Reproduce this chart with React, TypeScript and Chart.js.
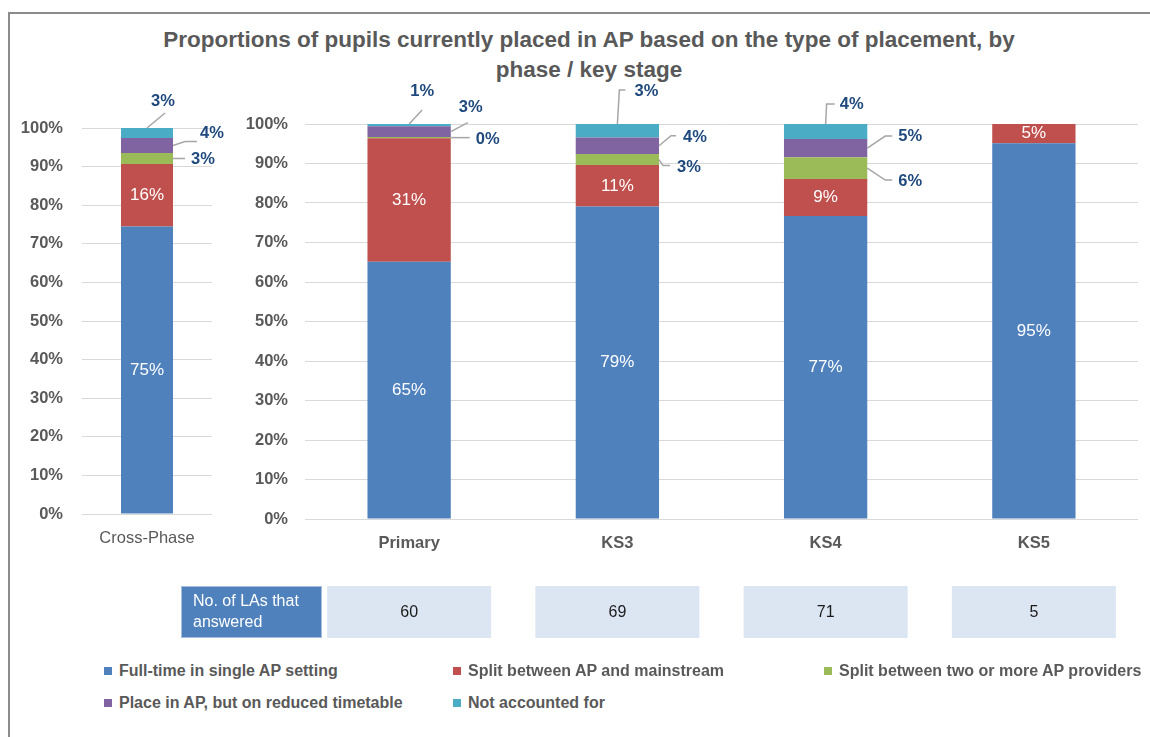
import React, { useEffect, useRef } from "react";
import { Chart, registerables } from "chart.js";

Chart.register(...registerables);

// ---------- DATA ----------
const titleLines = [
  "Proportions of pupils currently placed in AP based on the type of placement, by",
  "phase / key stage",
];

const seriesNames = [
  "Full-time in single AP setting",
  "Split between AP and mainstream",
  "Split between two or more AP providers",
  "Place in AP, but on reduced timetable",
  "Not accounted for",
];

const crossCategories = ["Cross-Phase"];
const crossFullTime = [74.5];
const crossSplitMainstream = [16.2];
const crossSplitProviders = [2.8];
const crossReduced = [3.9];
const crossNotAccounted = [2.6];

const phaseCategories = ["Primary", "KS3", "KS4", "KS5"];
const phaseFullTime = [65.1, 79.1, 76.7, 95.1];
const phaseSplitMainstream = [31.3, 10.5, 9.4, 4.9];
const phaseSplitProviders = [0.3, 2.8, 5.5, 0];
const phaseReduced = [2.7, 4.2, 4.6, 0];
const phaseNotAccounted = [0.6, 3.4, 3.8, 0];

const yTickValues = [0, 10, 20, 30, 40, 50, 60, 70, 80, 90, 100];

const laHeaderLines = ["No. of LAs that", "answered"];
const laCounts = [60, 69, 71, 5];

// ---------- STYLE ----------
const seriesColors = ["#4F81BD", "#C0504D", "#9BBB59", "#8064A2", "#4BACC6"];
const FONT = "'Liberation Sans', Arial, sans-serif";
const TEXT_GRAY = "#595959";
const CALLOUT_BLUE = "#1F497D";
const LEADER = "#A6A6A6";

type Callout = { anchor: "top" | "right"; line: number[][]; label: number[] };

// callout offsets keyed "datasetIndex-categoryIndex"
const crossCallouts: Record<string, Callout> = {
  "4-0": { anchor: "top", line: [[0, 0], [18, -15]], label: [16, -27] },
  "3-0": { anchor: "right", line: [[0, 0], [12, -4], [24, -4]], label: [39, -12] },
  "2-0": { anchor: "right", line: [[0, 0], [12, 0]], label: [30, 1] },
};
const phaseCallouts: Record<string, Callout> = {
  "4-0": { anchor: "top", line: [[0, 0], [13, -14]], label: [13, -33] },
  "3-0": { anchor: "right", line: [[0, 0], [17, -9]], label: [20, -24] },
  "2-0": { anchor: "right", line: [[0, 0], [19, 0]], label: [37, 2] },
  "4-1": { anchor: "top", line: [[0, 0], [2, -34], [8, -34]], label: [29, -33] },
  "3-1": { anchor: "right", line: [[0, 0], [12, -10], [17, -10]], label: [36, -8] },
  "2-1": { anchor: "right", line: [[0, 0], [4, 6], [11, 6]], label: [30, 8] },
  "4-2": { anchor: "top", line: [[0, 0], [1, -20], [9, -20]], label: [26, -20] },
  "3-2": { anchor: "right", line: [[0, 0], [18, -12], [25, -12]], label: [43, -12] },
  "2-2": { anchor: "right", line: [[0, 0], [18, 12], [25, 12]], label: [43, 13] },
};

function makeDatasets(series: number[][]) {
  return series.map((data, i) => ({
    label: seriesNames[i],
    data,
    backgroundColor: seriesColors[i],
    borderWidth: 0,
    barPercentage: 0.4,
    categoryPercentage: 1,
  }));
}

function labelPlugin(callouts: Record<string, Callout>) {
  return {
    id: "segLabels",
    afterDatasetsDraw(chart: any) {
      const ctx = chart.ctx;
      ctx.save();
      chart.data.datasets.forEach((ds: any, di: number) => {
        const meta = chart.getDatasetMeta(di);
        meta.data.forEach((el: any, ci: number) => {
          const v = ds.data[ci];
          if (!v || v <= 0) return;
          const p = el.getProps(["x", "y", "base", "width"], true);
          const text = Math.round(v) + "%";
          if (di < 2) {
            ctx.fillStyle = "#FFFFFF";
            ctx.font = `17px ${FONT}`;
            ctx.textAlign = "center";
            ctx.textBaseline = "middle";
            ctx.fillText(text, p.x, (p.y + p.base) / 2);
          } else {
            const c = callouts[`${di}-${ci}`];
            if (!c) return;
            const ax = c.anchor === "top" ? p.x : p.x + p.width / 2;
            const ay = c.anchor === "top" ? p.y : (p.y + p.base) / 2;
            ctx.strokeStyle = LEADER;
            ctx.lineWidth = 1.5;
            ctx.beginPath();
            c.line.forEach((pt, k) => {
              if (k === 0) ctx.moveTo(ax + pt[0], ay + pt[1]);
              else ctx.lineTo(ax + pt[0], ay + pt[1]);
            });
            ctx.stroke();
            ctx.fillStyle = CALLOUT_BLUE;
            ctx.font = `bold 16.5px ${FONT}`;
            ctx.textAlign = "center";
            ctx.textBaseline = "middle";
            ctx.fillText(text, ax + c.label[0], ay + c.label[1]);
          }
        });
      });
      ctx.restore();
    },
  };
}

const tablePlugin = {
  id: "laTable",
  afterDraw(chart: any) {
    const ctx = chart.ctx;
    const xs = chart.scales.x;
    const canvasLeft = 160;
    const canvasTop = 80;
    const boxTop = 586 - canvasTop;
    const boxH = 52;
    ctx.save();
    const hx = 181 - canvasLeft;
    ctx.fillStyle = "#4F81BD";
    ctx.fillRect(hx, boxTop, 141, boxH);
    ctx.strokeStyle = "#A7BFDE";
    ctx.lineWidth = 1;
    ctx.strokeRect(hx + 0.5, boxTop + 0.5, 140, boxH - 1);
    ctx.fillStyle = "#FFFFFF";
    ctx.font = `16px ${FONT}`;
    ctx.textAlign = "left";
    ctx.textBaseline = "middle";
    laHeaderLines.forEach((t, i) => ctx.fillText(t, hx + 12, boxTop + 16 + i * 21));
    laCounts.forEach((n, i) => {
      const cx = xs.getPixelForValue(i);
      const w = 164;
      ctx.fillStyle = "#DCE6F2";
      ctx.fillRect(cx - w / 2, boxTop, w, boxH);
      ctx.fillStyle = "#1A1A1A";
      ctx.font = `16px ${FONT}`;
      ctx.textAlign = "center";
      ctx.textBaseline = "middle";
      ctx.fillText(String(n), cx, boxTop + boxH / 2 + 1);
    });
    ctx.restore();
  },
};

function baseOptions(yWidth: number, xHeight: number, padding: any, xBold: boolean, tickPad: number) {
  return {
    responsive: false,
    animation: false as const,
    maintainAspectRatio: false,
    layout: { padding },
    plugins: { legend: { display: false }, tooltip: { enabled: false }, title: { display: false } },
    scales: {
      x: {
        stacked: true,
        grid: { display: false, drawTicks: false },
        border: { display: false },
        ticks: {
          color: TEXT_GRAY,
          padding: 15,
          font: { family: FONT, size: 16.5, weight: xBold ? "bold" : "normal" },
        },
        afterFit(scale: any) {
          scale.height = xHeight;
        },
      },
      y: {
        stacked: true,
        min: 0,
        max: 100,
        afterBuildTicks(scale: any) {
          scale.ticks = yTickValues.map((v) => ({ value: v }));
        },
        grid: { color: "#D9D9D9", lineWidth: 1, drawTicks: false },
        border: { display: false },
        ticks: {
          color: TEXT_GRAY,
          padding: tickPad,
          font: { family: FONT, size: 16.5, weight: "bold" },
          callback: (v: any) => v + "%",
        },
        afterFit(scale: any) {
          scale.width = yWidth;
        },
      },
    },
  };
}

function CrossChart() {
  const ref = useRef<HTMLCanvasElement>(null);
  useEffect(() => {
    const chart = new Chart(ref.current!, {
      type: "bar",
      data: {
        labels: crossCategories,
        datasets: makeDatasets([
          crossFullTime,
          crossSplitMainstream,
          crossSplitProviders,
          crossReduced,
          crossNotAccounted,
        ]),
      },
      options: baseOptions(72, 46, { top: 48, right: 18, bottom: 0, left: 0 }, false, 19) as any,
      plugins: [labelPlugin(crossCallouts)],
    });
    return () => chart.destroy();
  }, []);
  return (
    <canvas
      ref={ref}
      width={220}
      height={480}
      style={{ position: "absolute", left: 10, top: 80, width: 220, height: 480 }}
    />
  );
}

function PhaseChart() {
  const ref = useRef<HTMLCanvasElement>(null);
  useEffect(() => {
    const chart = new Chart(ref.current!, {
      type: "bar",
      data: {
        labels: phaseCategories,
        datasets: makeDatasets([
          phaseFullTime,
          phaseSplitMainstream,
          phaseSplitProviders,
          phaseReduced,
          phaseNotAccounted,
        ]),
      },
      options: baseOptions(145, 41, { top: 44, right: 12, bottom: 100, left: 0 }, true, 17) as any,
      plugins: [labelPlugin(phaseCallouts), tablePlugin],
    });
    return () => chart.destroy();
  }, []);
  return (
    <canvas
      ref={ref}
      width={990}
      height={580}
      style={{ position: "absolute", left: 160, top: 80, width: 990, height: 580 }}
    />
  );
}

function Legend() {
  const cols = [104, 453, 824];
  const rows = [671, 703];
  return (
    <>
      {seriesNames.map((name, i) => {
        const left = cols[i % 3];
        const top = rows[Math.floor(i / 3)];
        return (
          <div
            key={name}
            style={{
              position: "absolute",
              left,
              top: top - 10,
              height: 20,
              display: "flex",
              alignItems: "center",
              whiteSpace: "nowrap",
              fontFamily: FONT,
              fontSize: 16,
              fontWeight: "bold",
              color: TEXT_GRAY,
            }}
          >
            <span
              style={{ display: "inline-block", width: 8, height: 8, background: seriesColors[i], marginRight: 7 }}
            />
            {name}
          </div>
        );
      })}
    </>
  );
}

export default function App() {
  return (
    <div
      style={{
        position: "fixed",
        left: 0,
        top: 0,
        width: 1150,
        height: 737,
        background: "#FFFFFF",
        overflow: "hidden",
      }}
    >
      <div
        style={{
          position: "absolute",
          left: 8,
          top: 12,
          width: 1200,
          height: 800,
          borderLeft: "2px solid #8C8C8C",
          borderTop: "2px solid #8C8C8C",
        }}
      />
      <div
        style={{
          position: "absolute",
          left: 0,
          top: 25,
          width: 1178,
          textAlign: "center",
          fontFamily: FONT,
          fontWeight: "bold",
          fontSize: 22.5,
          lineHeight: "30px",
          color: TEXT_GRAY,
        }}
      >
        {titleLines.map((t) => (
          <div key={t}>{t}</div>
        ))}
      </div>
      <CrossChart />
      <PhaseChart />
      <Legend />
    </div>
  );
}
